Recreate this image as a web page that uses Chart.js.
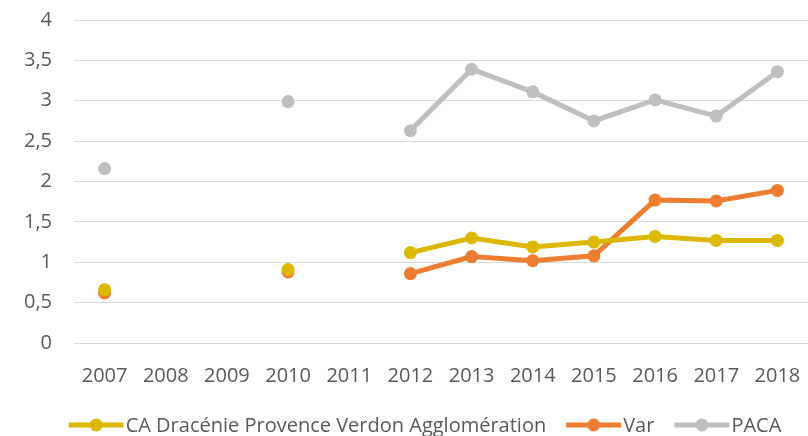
<!DOCTYPE html>
<html><head><meta charset="utf-8">
<script src="https://cdn.jsdelivr.net/npm/chart.js@4/dist/chart.umd.min.js"></script>
<style>html,body{margin:0;padding:0;background:#fff}#w{width:808px;height:436px}</style>
</head><body><div id="w"><canvas id="c" width="808" height="436"></canvas></div>
<script>
const categories = ['2007','2008','2009','2010','2011','2012','2013','2014','2015','2016','2017','2018'];
const caDracenie = [0.66, null, null, 0.91, null, 1.12, 1.30, 1.19, 1.25, 1.32, 1.27, 1.27];
const varDept    = [0.62, null, null, 0.88, null, 0.86, 1.07, 1.02, 1.08, 1.77, 1.76, 1.89];
const paca       = [2.16, null, null, 2.99, null, 2.63, 3.39, 3.11, 2.75, 3.01, 2.81, 3.36];
const seriesNames = ['CA Dracénie Provence Verdon Agglomération', 'Var', 'PACA'];
const yTicks = [0, 0.5, 1, 1.5, 2, 2.5, 3, 3.5, 4];
const colors = ['#DDB800', '#ED7D31', '#BFBFBF'];
const FONT = "'Open Sans', sans-serif";

function ds(label, data, color){
  return {label, data, borderColor: color, backgroundColor: color, borderWidth: 5,
    pointRadius: 6.5, pointHoverRadius: 6.5, pointBorderWidth: 0,
    pointBackgroundColor: color, pointBorderColor: color,
    spanGaps: false, tension: 0};
}

const legendPlugin = {
  id: 'xlLegend',
  afterDraw(chart){
    const ctx = chart.ctx;
    ctx.save();
    ctx.font = "20px " + FONT;
    const lineLen = 55, gapText = 2, gapItem = 20;
    const items = chart.data.datasets.map(d => ({label: d.label, color: d.borderColor, w: ctx.measureText(d.label).width}));
    let total = 0;
    items.forEach((it, i) => { total += lineLen + gapText + it.w + (i < items.length - 1 ? gapItem : 0); });
    let x = 425 - total / 2;
    const y = 425;
    items.forEach(it => {
      ctx.strokeStyle = it.color; ctx.lineWidth = 5; ctx.lineCap = 'butt';
      ctx.beginPath(); ctx.moveTo(x, y); ctx.lineTo(x + lineLen, y); ctx.stroke();
      ctx.fillStyle = it.color; ctx.beginPath(); ctx.arc(x + lineLen / 2, y, 6.5, 0, Math.PI * 2); ctx.fill();
      ctx.fillStyle = '#595959'; ctx.textBaseline = 'middle'; ctx.textAlign = 'left';
      ctx.fillText(it.label, x + lineLen + gapText, y + 1);
      x += lineLen + gapText + it.w + gapItem;
    });
    ctx.restore();
  }
};

new Chart(document.getElementById('c'), {
  type: 'line',
  data: {
    labels: categories,
    datasets: [ds(seriesNames[0], caDracenie, colors[0]), ds(seriesNames[1], varDept, colors[1]), ds(seriesNames[2], paca, colors[2])]
  },
  plugins: [legendPlugin],
  options: {
    responsive: false, animation: false, devicePixelRatio: 1,
    layout: {autoPadding: false, padding: {top: 20, right: 0, bottom: 45, left: 0}},
    plugins: {legend: {display: false}, tooltip: {enabled: false}},
    scales: {
      x: {
        offset: true,
        grid: {display: false},
        border: {display: false},
        ticks: {color: '#595959', font: {family: FONT, size: 20}, padding: 13, maxRotation: 0, autoSkip: false},
        afterFit(s){ s.height = 48; s.paddingLeft = 0; s.paddingRight = 0; }
      },
      y: {
        min: 0, max: 4,
        afterBuildTicks(s){ s.ticks = yTicks.map(v => ({value: v})); },
        grid: {color: '#D9D9D9', lineWidth: 1, drawTicks: false},
        border: {display: false},
        ticks: {color: '#595959', font: {family: FONT, size: 20}, padding: 22,
          callback: v => String(v).replace('.', ',')},
        afterFit(s){ s.width = 74; s.paddingTop = 0; s.paddingBottom = 0; }
      }
    }
  }
});
</script>
</body></html>
